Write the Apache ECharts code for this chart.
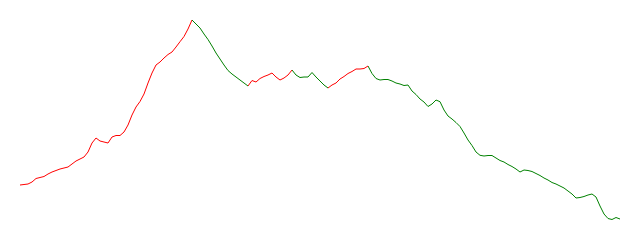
<!DOCTYPE html>
<html>
<head>
<meta charset="utf-8">
<script src="https://cdn.jsdelivr.net/npm/echarts@6/dist/echarts.min.js"></script>
<style>html,body{margin:0;padding:0;background:#fff}#c{width:640px;height:240px}</style>
</head>
<body>
<div id="c"></div>
<script>
const values = [
55, 55.5, 56, 58, 61.5, 62.5, 63.5, 66, 68, 69.5,
71, 72, 73, 76, 79, 81, 83, 88, 97, 102,
99, 98, 97, 103, 104.5, 104.5, 108, 115, 125, 133,
138.5, 146, 157, 167, 175, 178, 182, 185.5, 188, 193,
198.3, 203.5, 211, 220, 216, 212, 206, 200.5, 194, 187,
181, 175, 169.5, 166, 163, 160, 157, 154, 159.5, 158,
161.5, 163.5, 165, 167, 163, 160, 162, 165, 170, 165,
162.5, 163, 163, 167.5, 163, 159, 155, 152, 155, 157,
161, 163.5, 166.5, 168.5, 171, 171, 171.5, 174, 166.5, 161.5,
160, 160.5, 160.5, 159, 157, 156, 154.5, 155, 149, 145.5,
141, 138, 133.5, 136, 140, 138.3, 130, 124, 121, 117.5,
113.5, 107, 100, 94.5, 88, 84.7, 84, 84.5, 84.5, 82,
79.5, 78, 75.5, 73.5, 71, 68, 70, 69.5, 68.5, 66.5,
64.5, 62, 60, 57.5, 56, 54, 52, 49, 46, 42,
42.5, 43.5, 45, 46, 43, 34, 26, 21.5, 20.5, 22.5,
21
];
const categories = values.map((v, i) => String(i));
const colorBreaks = [43, 57, 68, 77, 87];
const rise = 'red', fall = 'green';

const pieces = [
  {lte: colorBreaks[0], color: rise},
  {gt: colorBreaks[0], lte: colorBreaks[1], color: fall},
  {gt: colorBreaks[1], lte: colorBreaks[2], color: rise},
  {gt: colorBreaks[2], lte: colorBreaks[3], color: fall},
  {gt: colorBreaks[3], lte: colorBreaks[4], color: rise},
  {gt: colorBreaks[4], color: fall}
];

const chart = echarts.init(document.getElementById('c'));
chart.setOption({
  animation: false,
  grid: {left: 20, right: 20, top: 0, bottom: 0},
  xAxis: {type: 'category', data: categories, boundaryGap: false, show: false},
  yAxis: {type: 'value', min: 0, max: 240, show: false},
  visualMap: {show: false, dimension: 0, pieces: pieces},
  series: [{
    type: 'line',
    data: values,
    symbol: 'none',
    lineStyle: {width: 1}
  }]
});
</script>
</body>
</html>
